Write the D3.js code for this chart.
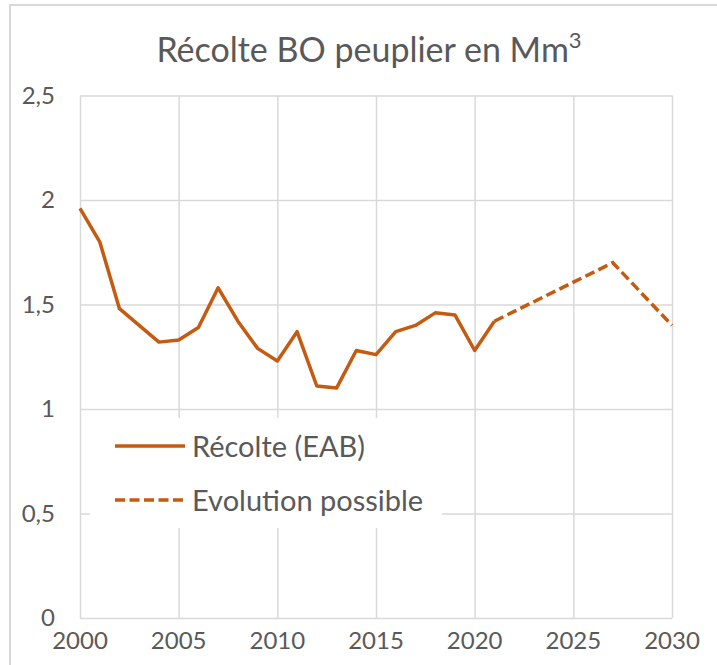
<!DOCTYPE html>
<html>
<head>
<meta charset="utf-8">
<script src="https://cdn.jsdelivr.net/npm/d3@7"></script>
<style>
  body { margin: 0; background: #fff; }
  svg text { font-family: Lato, "Open Sans", sans-serif; fill: #595959; }
</style>
</head>
<body>
<svg></svg>
<script>
// données
var years = [2000, 2001, 2002, 2003, 2004, 2005, 2006, 2007, 2008, 2009, 2010,
             2011, 2012, 2013, 2014, 2015, 2016, 2017, 2018, 2019, 2020, 2021];
var recolte = [1.96, 1.80, 1.48, 1.40, 1.32, 1.33, 1.39, 1.58, 1.42, 1.29, 1.23,
               1.37, 1.11, 1.10, 1.28, 1.26, 1.37, 1.40, 1.46, 1.45, 1.28, 1.42];
var evoYears = [2021, 2027, 2030];
var evolution = [1.42, 1.70, 1.40];
var xTicks = [2000, 2005, 2010, 2015, 2020, 2025, 2030];
var yTicks = [0, 0.5, 1, 1.5, 2, 2.5];

var svgWidth = 717, svgHeight = 665;
var plotLeft = 80, plotRight = 672, plotTop = 95.5, plotBottom = 618;
var orange = "#c55a11", grid = "#d9d9d9";

var svg = d3.select("svg")
    .attr("width", svgWidth)
    .attr("height", svgHeight);

// cadre du graphique
svg.append("rect")
    .attr("x", 10).attr("y", 5)
    .attr("width", 760).attr("height", 700)
    .attr("fill", "none")
    .attr("stroke", grid)
    .attr("stroke-width", 2);

var xScale = d3.scaleLinear().domain([2000, 2030]).range([plotLeft, plotRight]);
var yScale = d3.scaleLinear().domain([0, 2.5]).range([plotBottom, plotTop]);

// grille horizontale
svg.append("g")
    .attr("transform", "translate(" + plotLeft + ",0)")
    .call(d3.axisLeft(yScale).tickValues(yTicks).tickSize(-(plotRight - plotLeft)).tickFormat(""))
    .call(function(g) {
        g.select(".domain").remove();
        g.selectAll("line").attr("stroke", grid).attr("stroke-width", 1.5);
    });

// grille verticale
svg.append("g")
    .attr("transform", "translate(0," + plotBottom + ")")
    .call(d3.axisBottom(xScale).tickValues(xTicks).tickSize(-(plotBottom - plotTop)).tickFormat(""))
    .call(function(g) {
        g.select(".domain").remove();
        g.selectAll("line").attr("stroke", grid).attr("stroke-width", 1.5);
    });

// étiquettes des axes
svg.selectAll(".ylab")
    .data(yTicks)
    .enter()
    .append("text")
    .attr("class", "ylab")
    .attr("x", 55)
    .attr("y", function(d) { return yScale(d); })
    .attr("dy", "0.35em")
    .attr("text-anchor", "end")
    .style("font-size", "24px")
    .text(function(d) { return String(d).replace(".", ","); });

svg.selectAll(".xlab")
    .data(xTicks)
    .enter()
    .append("text")
    .attr("class", "xlab")
    .attr("x", function(d) { return xScale(d); })
    .attr("y", 649)
    .attr("text-anchor", "middle")
    .style("font-size", "24px")
    .text(function(d) { return d; });

// titre
var title = svg.append("text")
    .attr("x", 369)
    .attr("y", 62)
    .attr("text-anchor", "middle")
    .style("font-size", "34px");
title.append("tspan").text("Récolte BO peuplier en Mm");
title.append("tspan").attr("dy", -14).style("font-size", "22px").text("3");

// courbes
var line = d3.line()
    .x(function(d) { return xScale(d[0]); })
    .y(function(d) { return yScale(d[1]); });

svg.append("path")
    .datum(d3.zip(years, recolte))
    .attr("d", line)
    .attr("fill", "none")
    .attr("stroke", orange)
    .attr("stroke-width", 3.5)
    .attr("stroke-linejoin", "round");

svg.append("path")
    .datum(d3.zip(evoYears, evolution))
    .attr("d", line)
    .attr("fill", "none")
    .attr("stroke", orange)
    .attr("stroke-width", 3.5)
    .attr("stroke-dasharray", "10,4.5");

// légende
svg.append("rect")
    .attr("x", 90).attr("y", 418)
    .attr("width", 352).attr("height", 110)
    .attr("fill", "#fff");

var legend = [
    {label: "Récolte (EAB)", dash: null, y: 446},
    {label: "Evolution possible", dash: "10,4.5", y: 500}
];

var item = svg.selectAll(".legend")
    .data(legend)
    .enter()
    .append("g")
    .attr("class", "legend");

item.append("line")
    .attr("x1", 115).attr("x2", 185)
    .attr("y1", function(d) { return d.y; })
    .attr("y2", function(d) { return d.y; })
    .attr("stroke", orange)
    .attr("stroke-width", 3.5)
    .attr("stroke-dasharray", function(d) { return d.dash; });

item.append("text")
    .attr("x", 192)
    .attr("y", function(d) { return d.y + 10.5; })
    .style("font-size", "29px")
    .text(function(d) { return d.label; });
</script>
</body>
</html>
